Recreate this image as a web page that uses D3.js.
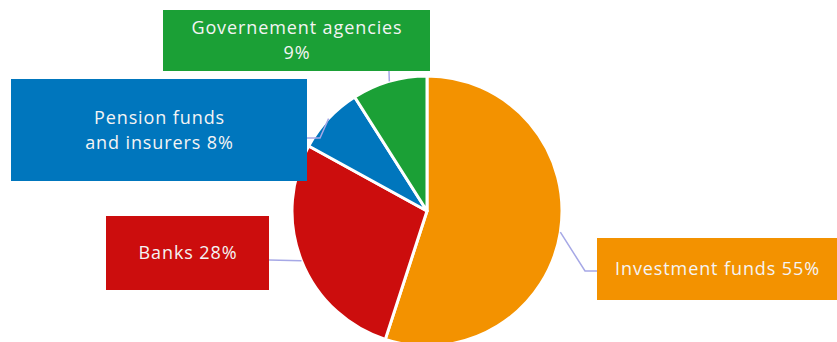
<!DOCTYPE html>
<html>
<head>
<meta charset="utf-8">
<script src="https://cdn.jsdelivr.net/npm/d3@7"></script>
<style>
  body { margin: 0; background: #fff; }
  svg { display: block; }
  .lbl { font-family: "Open Sans", "Lato", sans-serif; font-size: 18px; letter-spacing: 0.9px; fill: #f4f4f4; }
</style>
</head>
<body>
<div id="chart"></div>
<script>
// slices, clockwise from 12 o'clock
const categories = ["Investment funds", "Banks", "Pension funds and insurers", "Governement agencies"];
const shares = [55, 28, 8, 9];
const labelLines = [
    ["Investment funds 55%"],
    ["Banks 28%"],
    ["Pension funds", "and insurers 8%"],
    ["Governement agencies", "9%"]
];
const colors = ["#f39200", "#cc0d0d", "#0076bd", "#1ba036"];

const width = 837, height = 342;
const cx = 427, cy = 211, radius = 135;

// label boxes + leader elbows (layout only)
const boxes = [
    {x: 597, y: 238, w: 240, h: 62, elbow: [[585, 271], [597, 271]]},
    {x: 106, y: 216, w: 163, h: 74, elbow: [[269, 260]]},
    {x: 11, y: 79, w: 296, h: 102, elbow: [[320, 138], [307, 138]]},
    {x: 163, y: 10, w: 267, h: 61, elbow: [[389, 71]]}
];

const data = categories.map((c, i) => ({name: c, value: shares[i], lines: labelLines[i], color: colors[i], box: boxes[i]}));

const svg = d3.select("#chart")
    .append("svg")
    .attr("width", width)
    .attr("height", height);

const pie = d3.pie().value(d => d.value).sort(null);
const arcs = pie(data);

const arc = d3.arc().innerRadius(0).outerRadius(radius);

const g = svg.append("g").attr("transform", `translate(${cx},${cy})`);

g.selectAll(".slice")
    .data(arcs)
    .enter().append("path")
    .attr("class", "slice")
    .attr("d", arc)
    .attr("fill", d => d.data.color)
    .attr("stroke", "#fff")
    .attr("stroke-width", 3)
    .attr("stroke-linejoin", "round");

// leader lines from edge of pie at mid angle
svg.selectAll(".leader")
    .data(arcs)
    .enter().append("polyline")
    .attr("class", "leader")
    .attr("fill", "none")
    .attr("stroke", "#a6a8e6")
    .attr("stroke-width", 1.5)
    .attr("points", d => {
        const mid = (d.startAngle + d.endAngle) / 2;
        const start = [cx + radius * Math.sin(mid), cy - radius * Math.cos(mid)];
        return [start].concat(d.data.box.elbow).map(p => p.join(",")).join(" ");
    });

const labels = svg.selectAll(".label")
    .data(data)
    .enter().append("g")
    .attr("class", "label");

labels.append("rect")
    .attr("x", d => d.box.x)
    .attr("y", d => d.box.y)
    .attr("width", d => d.box.w)
    .attr("height", d => d.box.h)
    .attr("fill", d => d.color);

labels.each(function(d) {
    const n = d.lines.length;
    const lh = 25;
    const midY = d.box.y + d.box.h / 2;
    const t = d3.select(this).append("text")
        .attr("class", "lbl")
        .attr("text-anchor", "middle");
    d.lines.forEach((line, i) => {
        t.append("tspan")
            .attr("x", d.box.x + d.box.w / 2 + 0.5)
            .attr("y", midY + (i - (n - 1) / 2) * lh + 6)
            .text(line);
    });
});
</script>
</body>
</html>
